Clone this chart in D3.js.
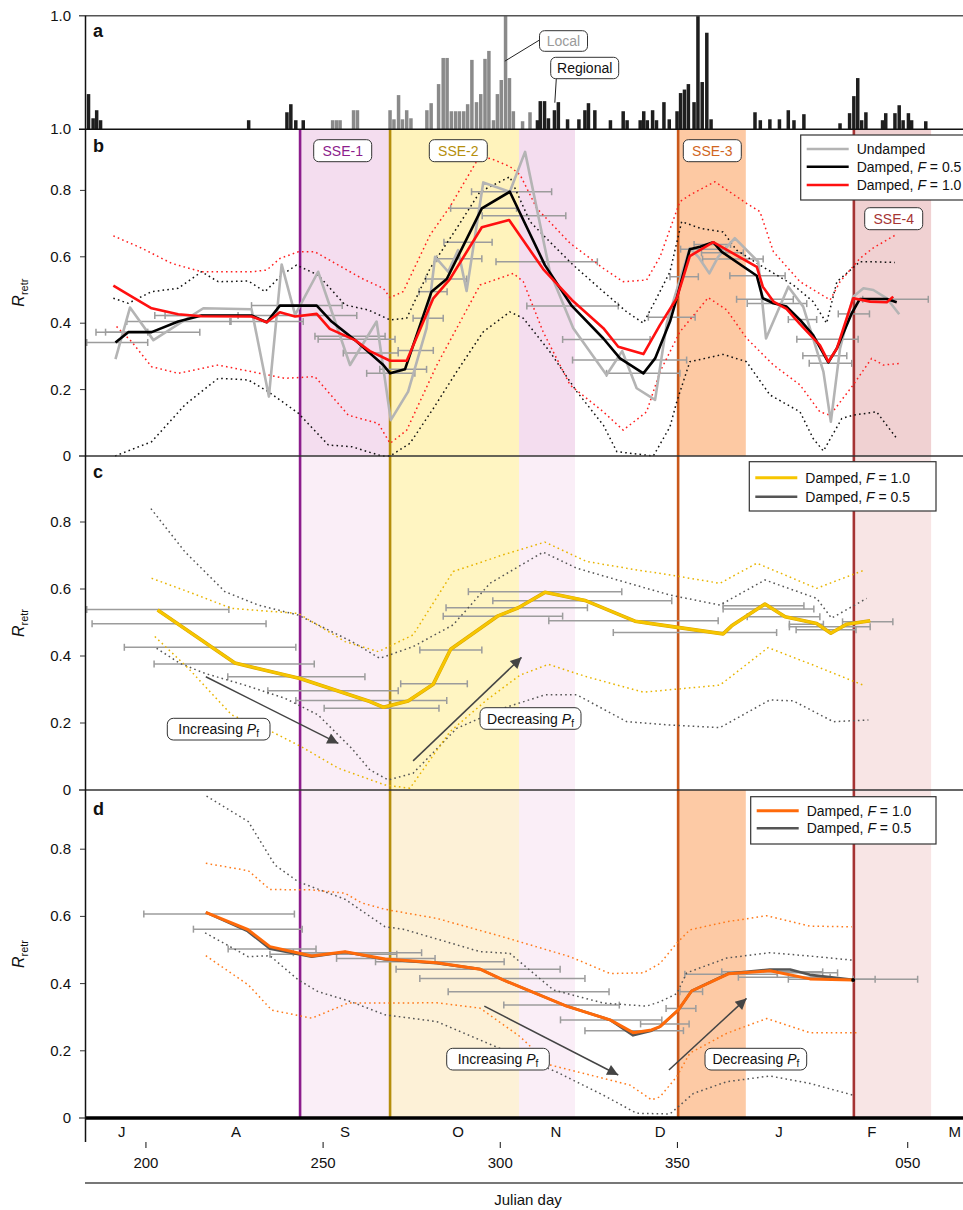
<!DOCTYPE html>
<html>
<head>
<meta charset="utf-8">
<script src="https://cdn.jsdelivr.net/npm/d3@7"></script>
<style>
  body { margin: 0; background: #fff; }
  svg { display: block; font-family: "Liberation Sans", Arial, sans-serif; }
</style>
</head>
<body>
<svg id="chart" width="963" height="1210"></svg>
<script>
// ---------- Panel a: daily tremor activity (fraction of max) ----------
const regionalBars = [[183.3,0.31],[184.6,0.097],[185.6,0.168],[186.7,0.08],[228.5,0.08],[239.3,0.15],[240.4,0.221],[241.8,0.08],[243.9,0.08],
  [310.0,0.08],[310.8,0.248],[312.0,0.248],[313.1,0.097],[314.8,0.168],[315.9,0.239],[318.5,0.088],[321.7,0.088],[323.4,0.168],[324.4,0.23],[326.2,0.168],
  [330.6,0.08],[334.2,0.159],[335.3,0.08],[339.0,0.08],[340.0,0.159],[341.0,0.08],[342.5,0.168],[343.6,0.08],[345.7,0.239],[347.2,0.088],[349.4,0.159],
  [350.4,0.319],[351.5,0.35],[352.6,0.398],[354.2,0.239],[355.3,1.0],[356.5,0.416],[357.8,0.85],[359.0,0.088],[371.4,0.15],[372.9,0.08],[375.6,0.088],
  [378.3,0.088],[380.8,0.168],[382.4,0.08],[385.2,0.133],[395.4,0.053],[398.1,0.142],[399.3,0.292],[400.4,0.451],[401.5,0.08],[402.7,0.15],[407.4,0.08],
  [408.3,0.142],[410.9,0.142],[412.1,0.212],[413.2,0.08],[414.7,0.142],[415.6,0.08],[419.6,0.071]];
const localBars = [[252.2,0.08],[253.3,0.08],[254.3,0.08],[258.1,0.168],[259.2,0.168],[268.4,0.168],[269.5,0.088],[270.8,0.301],[271.9,0.088],[273.1,0.168],
  [274.3,0.097],[278.8,0.168],[280.0,0.23],[282.1,0.398],[283.4,0.628],[284.5,0.628],[285.7,0.159],[286.9,0.159],[288.0,0.159],[289.2,0.159],[290.3,0.221],
  [291.5,0.611],[292.8,0.239],[294.0,0.31],[295.2,0.62],[296.3,0.69],[297.6,0.08],[298.7,0.31],[299.8,0.434],[301.0,1.0],[302.1,0.451],[303.2,0.159],
  [305.8,0.071],[307.9,0.15]];

// ---------- Panel b: R_retr estimates ----------
const bUndamped = [[191.4,0.292],[195.5,0.447],[202.1,0.349],[216.2,0.445],[229.8,0.442],[234.7,0.179],[238.3,0.577],[242.1,0.425],[248.6,0.555],[257.6,0.274],
  [265.1,0.405],[269.1,0.108],[274.0,0.194],[279.2,0.385],[281.6,0.6],[285.3,0.555],[288.1,0.62],[290.5,0.497],[295.2,0.824],[302.7,0.796],[307.0,0.916],
  [314.0,0.555],[320.6,0.385],[330.0,0.244],[334.4,0.316],[338.5,0.204],[343.7,0.169],[347.0,0.40],[349.8,0.5],[353.5,0.626],[355.9,0.6],[359.0,0.55],
  [361.5,0.6],[366.2,0.656],[372.8,0.585],[375.0,0.354],[381.3,0.51],[385.5,0.45],[391.2,0.254],[393.3,0.103],[395.9,0.324],[399.6,0.48],[402.5,0.505],
  [405.3,0.5],[409.1,0.475],[412.6,0.427]];
const bDampedF05 = [[191.4,0.342],[195.0,0.373],[201.6,0.373],[209.1,0.405],[215.7,0.423],[229.8,0.423],[234.1,0.403],[237.8,0.453],[248.2,0.453],[252.4,0.405],
  [259.0,0.349],[267.0,0.274],[268.9,0.249],[273.1,0.261],[280.6,0.495],[284.9,0.533],[294.8,0.746],[302.7,0.796],[312.6,0.575],[320.2,0.452],[329.1,0.354],
  [333.8,0.294],[340.4,0.249],[343.7,0.294],[347.9,0.405],[349.8,0.475],[353.5,0.623],[356.4,0.63],[360.1,0.644],[362.5,0.615],[372.4,0.543],[374.1,0.475],
  [377.1,0.46],[380.8,0.45],[384.6,0.41],[388.3,0.364],[392.6,0.282],[395.0,0.324],[399.2,0.43],[401.5,0.473],[409.1,0.473],[411.9,0.463]];
const bDampedF10 = [[190.8,0.513],[196.0,0.48],[201.6,0.445],[209.1,0.427],[215.7,0.421],[229.8,0.42],[234.1,0.403],[237.8,0.433],[242.1,0.42],[248.2,0.428],
  [251.9,0.383],[259.0,0.349],[263.2,0.316],[268.9,0.287],[273.6,0.287],[281.1,0.475],[285.8,0.533],[294.8,0.689],[302.5,0.711],[312.1,0.563],[320.2,0.47],
  [329.1,0.385],[333.3,0.329],[340.4,0.307],[345.1,0.395],[349.8,0.475],[353.5,0.602],[360.1,0.644],[372.4,0.57],[374.1,0.51],[377.1,0.465],[380.8,0.443],
  [384.6,0.397],[390.2,0.334],[392.6,0.284],[395.0,0.324],[399.6,0.475],[404.4,0.465],[409.1,0.463],[410.9,0.48]];
const bF05Upper = [[190.8,0.475],[195.0,0.46],[201.6,0.495],[209.1,0.505],[215.7,0.555],[220.4,0.525],[228.9,0.527],[233.6,0.495],[238.3,0.545],[242.5,0.575],
  [248.6,0.545],[256.2,0.455],[262.7,0.44],[268.9,0.41],[273.6,0.415],[280.2,0.565],[287.7,0.686],[294.3,0.796],[302.7,0.841],[308.4,0.706],[314.0,0.645],
  [320.6,0.575],[329.1,0.495],[335.7,0.434],[340.4,0.4],[344.1,0.475],[347.9,0.555],[351.2,0.706],[356.4,0.686],[362.9,0.675],[366.7,0.62],[373.3,0.575],
  [382.7,0.515],[388.3,0.465],[392.1,0.4],[395.0,0.525],[401.5,0.585],[405.3,0.585],[411.4,0.583]];
const bF05Lower = [[191.3,0.0],[201.6,0.043],[211.0,0.154],[220.4,0.234],[228.9,0.229],[234.5,0.194],[243.0,0.129],[251.5,0.033],[258.1,0.028],[266.5,0.0],
  [268.9,0.0],[274.5,0.038],[281.1,0.143],[287.7,0.254],[295.2,0.374],[302.7,0.434],[306.5,0.415],[314.0,0.314],[321.6,0.194],[329.1,0.093],[332.9,0.013],
  [343.2,0.0],[347.9,0.088],[349.8,0.163],[353.5,0.284],[362.9,0.306],[369.5,0.284],[376.1,0.184],[384.6,0.133],[388.3,0.053],[391.2,0.015],[396.4,0.113],
  [399.6,0.123],[406.2,0.133],[411.9,0.053]];
const bF10Upper = [[190.8,0.663],[198.8,0.626],[207.3,0.58],[215.7,0.555],[229.8,0.555],[234.1,0.56],[237.8,0.595],[243.0,0.615],[247.7,0.615],[254.3,0.575],
  [260.9,0.535],[267.0,0.505],[268.9,0.477],[272.6,0.495],[280.2,0.666],[285.8,0.751],[293.3,0.887],[297.1,0.897],[302.7,0.872],[305.6,0.847],[310.3,0.746],
  [319.7,0.641],[329.1,0.565],[334.7,0.525],[341.3,0.53],[345.1,0.6],[350.7,0.766],[353.5,0.786],[360.6,0.826],[369.5,0.761],[373.3,0.736],[377.1,0.615],
  [384.6,0.525],[393.1,0.47],[395.9,0.525],[401.5,0.595],[405.3,0.627],[411.9,0.668]];
const bF10Lower = [[191.7,0.39],[196.0,0.344],[201.6,0.269],[209.1,0.249],[220.4,0.274],[229.8,0.254],[239.2,0.234],[247.7,0.239],[257.1,0.123],[265.6,0.098],
  [268.9,0.038],[273.6,0.078],[282.1,0.274],[294.3,0.515],[303.7,0.55],[306.5,0.525],[312.1,0.374],[319.7,0.214],[329.1,0.133],[334.7,0.078],[341.3,0.133],
  [345.1,0.254],[350.7,0.374],[358.7,0.477],[363.9,0.44],[369.5,0.355],[377.1,0.274],[384.6,0.214],[390.2,0.133],[393.1,0.123],[399.6,0.214],[404.8,0.294],
  [408.1,0.274],[412.8,0.279]];
// estimation windows: [start day, end day, R_retr]
const bWindows = [[183.3,200.5,0.342],[185.9,200.5,0.373],[188.6,215.2,0.373],[194.6,224.0,0.405],[223.7,244.4,0.405],[202.5,259.5,0.423],[205.4,226.0,0.423],
  [229.8,255.4,0.453],[247.7,267.5,0.361],[248.6,270.3,0.352],[255.7,271.2,0.31],[271.2,281.1,0.318],[262.3,275.9,0.249],[266.0,279.2,0.261],[275.4,283.9,0.415],
  [277.1,285.0,0.495],[279.0,290.5,0.533],[282.1,294.8,0.594],[284.1,297.7,0.644],[286.0,304.6,0.746],[294.9,318.5,0.724],[291.9,314.5,0.796],[298.8,327.4,0.585],
  [307.5,333.3,0.452],[317.6,342.3,0.351],[320.4,352.6,0.289],[330.0,350.7,0.249],[341.8,355.0,0.418],[347.9,355.9,0.54],[350.9,363.7,0.623],[354.7,365.0,0.637],
  [356.8,368.6,0.612],[357.1,374.2,0.593],[364.8,380.4,0.543],[366.7,382.7,0.472],[369.7,386.5,0.459],[381.3,389.3,0.411],[383.7,401.0,0.352],[385.4,397.8,0.302],
  [387.2,399.2,0.279],[395.4,404.2,0.428],[402.3,420.8,0.472]];

// ---------- Panel c ----------
const cDampedF10 = [[203.3,0.537],[225.1,0.379],[243.5,0.333],[263.2,0.264],[267.0,0.247],[274.0,0.266],[281.1,0.316],[286.0,0.42],[299.4,0.52],[305.1,0.544],
  [312.6,0.59],[323.9,0.566],[338.0,0.504],[345.1,0.493],[362.9,0.466],[365.3,0.49],[374.7,0.555],[380.4,0.517],[389.3,0.497],[393.3,0.468],[397.8,0.495],[404.4,0.505]];
const cDampedF05 = [[203.3,0.537],[225.1,0.379],[243.5,0.333],[263.2,0.264],[267.0,0.247],[274.0,0.266],[281.1,0.316],[286.0,0.42],[299.4,0.52],[305.1,0.544],
  [312.6,0.59],[323.9,0.566],[338.0,0.504],[345.1,0.493],[362.9,0.466],[365.3,0.49],[374.7,0.555],[380.4,0.517],[389.3,0.497],[393.3,0.468],[397.8,0.495],[404.4,0.505]];
const cF10Upper = [[201.6,0.632],[211.9,0.592],[224.2,0.542],[243.0,0.527],[256.2,0.443],[265.6,0.413],[275.4,0.463],[286.7,0.652],[300.8,0.702],[312.6,0.74],
  [324.4,0.682],[338.5,0.657],[347.9,0.642],[362.0,0.617],[372.4,0.677],[389.3,0.602],[402.9,0.657]];
const cF10Lower = [[202.5,0.458],[211.9,0.364],[224.2,0.224],[235.5,0.174],[243.9,0.129],[254.3,0.065],[267.5,0.015],[274.5,0.005],[285.8,0.174],[296.2,0.269],
  [305.6,0.343],[313.6,0.375],[324.4,0.338],[340.4,0.292],[362.0,0.313],[375.6,0.425],[388.3,0.373],[402.9,0.311]];
const cF05Upper = [[201.4,0.84],[211.0,0.711],[222.3,0.592],[231.7,0.552],[243.0,0.522],[258.1,0.443],[266.0,0.393],[275.4,0.428],[286.7,0.493],[297.1,0.617],
  [312.1,0.71],[321.6,0.662],[334.7,0.622],[347.9,0.582],[362.0,0.552],[374.7,0.627],[389.3,0.572],[393.5,0.513],[403.4,0.572]];
const cF05Lower = [[203.0,0.423],[209.6,0.378],[216.7,0.348],[227.9,0.313],[239.2,0.274],[248.6,0.224],[258.1,0.124],[263.2,0.06],[268.4,0.03],[275.4,0.05],
  [287.7,0.184],[300.8,0.244],[312.6,0.284],[321.6,0.284],[335.7,0.204],[347.9,0.194],[362.0,0.186],[376.1,0.269],[382.7,0.266],[394.0,0.204],[403.9,0.209]];
const cWindows = [[183.3,223.4,0.539],[184.8,233.9,0.496],[193.9,242.3,0.426],[202.3,247.5,0.376],[223.1,261.8,0.338],[234.4,271.2,0.296],[242.3,284.9,0.267],
  [250.3,282.7,0.244],[271.9,290.7,0.317],[277.3,294.8,0.418],[283.9,317.6,0.519],[284.7,324.6,0.544],[291.0,334.3,0.592],[297.9,348.4,0.565],[313.7,361.5,0.505],
  [331.9,378.0,0.47],[362.9,385.7,0.55],[362.9,388.5,0.54],[369.7,390.2,0.517],[381.6,391.2,0.495],[381.6,404.4,0.487],[383.5,400.4,0.478],[396.6,410.8,0.502]];

// ---------- Panel d ----------
const dDampedF10 = [[216.9,0.612],[228.7,0.561],[235.0,0.51],[246.8,0.482],[256.2,0.495],[267.5,0.473],[282.1,0.462],[294.3,0.443],[300.8,0.411],[318.7,0.333],
  [331.0,0.292],[337.5,0.254],[342.7,0.262],[345.1,0.272],[350.2,0.321],[354.0,0.378],[364.4,0.429],[376.1,0.438],[387.4,0.414],[399.6,0.411]];
const dDampedF05 = [[216.9,0.612],[228.7,0.556],[235.0,0.504],[246.8,0.48],[256.2,0.494],[267.5,0.472],[282.1,0.461],[294.3,0.443],[300.8,0.411],[318.7,0.333],
  [331.0,0.292],[337.5,0.246],[342.7,0.26],[345.1,0.272],[350.2,0.321],[354.0,0.378],[364.4,0.43],[376.1,0.442],[381.8,0.442],[387.4,0.426],[399.6,0.411]];
const dF10Upper = [[216.9,0.758],[228.9,0.736],[235.0,0.68],[246.8,0.679],[256.2,0.669],[260.9,0.64],[267.5,0.621],[282.1,0.594],[300.8,0.539],[319.7,0.48],
  [331.0,0.43],[340.4,0.432],[345.1,0.46],[349.8,0.52],[353.5,0.56],[363.9,0.584],[375.2,0.602],[387.4,0.571],[399.2,0.569]];
const dF10Lower = [[216.9,0.483],[228.9,0.396],[235.5,0.321],[246.8,0.297],[257.1,0.342],[267.5,0.342],[282.1,0.343],[294.3,0.327],[305.6,0.242],[314.0,0.158],
  [329.1,0.118],[336.6,0.098],[342.7,0.054],[345.1,0.063],[349.8,0.123],[353.5,0.193],[363.9,0.252],[375.2,0.296],[387.4,0.254],[400.6,0.254]];
const dF05Upper = [[217.1,0.958],[228.9,0.882],[236.4,0.753],[243.0,0.703],[256.2,0.651],[267.5,0.569],[272.6,0.562],[294.3,0.495],[302.7,0.49],[315.0,0.381],
  [329.1,0.342],[341.3,0.333],[345.1,0.346],[349.8,0.37],[352.6,0.432],[363.9,0.476],[376.1,0.492],[387.4,0.482],[399.2,0.47]];
const dF05Lower = [[216.7,0.551],[228.9,0.48],[235.0,0.483],[243.0,0.411],[248.6,0.376],[257.1,0.349],[267.5,0.307],[282.1,0.287],[294.3,0.232],[305.6,0.182],
  [315.9,0.137],[329.1,0.068],[338.5,0.014],[347.9,0.012],[354.5,0.073],[363.9,0.108],[376.1,0.125],[387.4,0.103],[399.6,0.068]];
const dWindows = [[199.4,241.9,0.607],[213.4,244.1,0.562],[223.2,248.0,0.503],[235.0,270.8,0.487],[241.6,277.8,0.492],[253.8,281.6,0.475],[264.8,301.1,0.465],
  [270.6,316.9,0.443],[277.3,323.9,0.415],[285.3,330.7,0.376],[301.0,333.6,0.336],[317.0,345.6,0.292],[323.9,351.7,0.26],[339.6,353.3,0.28],[346.8,355.2,0.326],
  [350.7,357.1,0.376],[352.1,378.2,0.428],[362.5,391.0,0.435],[378.2,395.2,0.432],[367.2,393.1,0.419],[381.3,405.8,0.413],[399.6,417.8,0.413]];

// ---------- Slow slip events: onset line and shaded span (Julian day) ----------
const sseNames = ["SSE-1", "SSE-2", "SSE-3", "SSE-4"];
const sseOnset = [243.5, 268.9, 350.2, 399.8];
const sseEnd = [321.1, 305.3, 369.3, 421.6];

// ---------- Axis labels ----------
const monthLabels = ["J", "A", "S", "O", "N", "D", "J", "F", "M"];
const monthDays = [193.2, 225.4, 256.2, 288.1, 315.7, 345.1, 378.7, 404.9, 428.3];
const julianTicks = [200, 250, 300, 350, 415];
const julianLabels = ["200", "250", "300", "350", "050"];
const rTicks = [0, 0.2, 0.4, 0.6, 0.8];

// ================= drawing =================
const svg = d3.select("#chart");
const x = d3.scaleLinear().domain([182.8, 430.6]).range([85, 963]);
const yA = d3.scaleLinear().domain([0, 1]).range([129.3, 15.7]);
const yB = d3.scaleLinear().domain([0, 1]).range([456, 124]);
const yC = d3.scaleLinear().domain([0, 1]).range([790, 455]);
const yD = d3.scaleLinear().domain([0, 1]).range([1118, 782]);

const panels = {
  b: { y: yB, top: 129.3, bottom: 456 },
  c: { y: yC, top: 456, bottom: 790 },
  d: { y: yD, top: 790, bottom: 1118 }
};

const sseStyle = [
  { line: "#8c1d8c", text: "#8c1d8c" },
  { line: "#b58e0c", text: "#b58e0c" },
  { line: "#c9581a", text: "#d0661e" },
  { line: "#a53434", text: "#a53434" }
];
// band fill per panel (null = not shaded)
const bandFill = {
  b: ["#f4ddef", "#fff3bc", "#fdc9a3", "#f0d1d2"],
  c: ["#faeef7", "#fff5c2", null, "#f8e5e5"],
  d: ["#faeef7", "#fdf1d7", "#fdcaa5", "#f8e5e5"]
};

const defs = svg.append("defs");
defs.append("marker").attr("id", "arrowhead")
  .attr("viewBox", "0 0 10 10").attr("refX", 10).attr("refY", 5)
  .attr("markerWidth", 15).attr("markerHeight", 11)
  .attr("markerUnits", "userSpaceOnUse").attr("orient", "auto")
  .append("path").attr("d", "M0,0 L10,5 L0,10 z").attr("fill", "#444");

// shaded spans (SSE-1 band drawn first, SSE-2 over it)
Object.entries(panels).forEach(([key, p]) => {
  const g = svg.append("g");
  sseOnset.forEach((s, i) => {
    const f = bandFill[key][i];
    if (!f) return;
    g.append("rect").attr("x", x(s)).attr("y", p.top)
      .attr("width", x(sseEnd[i]) - x(s)).attr("height", p.bottom - p.top)
      .attr("fill", f);
  });
});

// SSE onset lines through panels b-d
sseOnset.forEach((s, i) => {
  svg.append("line").attr("x1", x(s)).attr("x2", x(s)).attr("y1", 129.3).attr("y2", 1118)
    .attr("stroke", sseStyle[i].line).attr("stroke-width", 2.6);
});

// ---------- panel a bars ----------
const barW = x(184.13) - x(183) - 0.5;
const gA = svg.append("g");
gA.selectAll("rect.reg").data(regionalBars).join("rect")
  .attr("x", d => x(d[0])).attr("width", barW)
  .attr("y", d => yA(d[1])).attr("height", d => yA(0) - yA(d[1]))
  .attr("fill", "#1e1e1e");
gA.selectAll("rect.loc").data(localBars).join("rect")
  .attr("x", d => x(d[0])).attr("width", barW)
  .attr("y", d => yA(d[1])).attr("height", d => yA(0) - yA(d[1]))
  .attr("fill", "#8a8a8a");

function callout(px, py, lx, ly, bx, by, bw, bh, label, color) {
  gA.append("line").attr("x1", px).attr("y1", py).attr("x2", lx).attr("y2", ly)
    .attr("stroke", "#222").attr("stroke-width", 1);
  gA.append("rect").attr("x", bx).attr("y", by).attr("width", bw).attr("height", bh)
    .attr("rx", 5).attr("fill", "#fff").attr("stroke", "#333").attr("stroke-width", 1);
  gA.append("text").attr("x", bx + bw / 2).attr("y", by + bh / 2 + 5)
    .attr("text-anchor", "middle").attr("font-size", 14).attr("fill", color).text(label);
}
callout(x(301.3), yA(0.6), 539.5, 40, 539.5, 30.7, 48, 20.6, "Local", "#9a9a9a");
callout(x(315.4), yA(0.234), 556.3, 78.7, 550.7, 57.3, 68, 21.4, "Regional", "#111");

// ---------- helpers ----------
function windows(p, data) {
  const g = svg.append("g").attr("stroke", "#9c9c9c").attr("stroke-width", 1.5);
  data.forEach(w => {
    const yy = p.y(w[2]);
    g.append("line").attr("x1", x(w[0])).attr("x2", x(w[1])).attr("y1", yy).attr("y2", yy);
    g.append("line").attr("x1", x(w[0])).attr("x2", x(w[0])).attr("y1", yy - 3.5).attr("y2", yy + 3.5);
    g.append("line").attr("x1", x(w[1])).attr("x2", x(w[1])).attr("y1", yy - 3.5).attr("y2", yy + 3.5);
  });
}
function series(p, data, color, width, dotted) {
  const line = d3.line().x(d => x(d[0])).y(d => p.y(d[1]));
  const path = svg.append("path").datum(data).attr("d", line)
    .attr("fill", "none").attr("stroke", color).attr("stroke-width", width)
    .attr("stroke-linejoin", "round");
  if (dotted) path.attr("stroke-dasharray", "1.6 3.2");
  return path;
}
function arrow(p, a, b) {
  svg.append("line").attr("x1", x(a[0])).attr("y1", p.y(a[1]))
    .attr("x2", x(b[0])).attr("y2", p.y(b[1]))
    .attr("stroke", "#444").attr("stroke-width", 1.5).attr("marker-end", "url(#arrowhead)");
}
function noteBox(bx, by, bw, bh, word) {
  svg.append("rect").attr("x", bx).attr("y", by).attr("width", bw).attr("height", bh)
    .attr("rx", 6).attr("fill", "#fff").attr("stroke", "#333").attr("stroke-width", 1);
  const t = svg.append("text").attr("x", bx + bw / 2).attr("y", by + bh / 2 + 5)
    .attr("text-anchor", "middle").attr("font-size", 14).attr("fill", "#111");
  t.append("tspan").text(word + " ");
  t.append("tspan").attr("font-style", "italic").text("P");
  t.append("tspan").attr("font-size", 10).attr("dy", 3).text("f");
}
function legend(lx, ly, lw, lh, items) {
  svg.append("rect").attr("x", lx).attr("y", ly).attr("width", lw).attr("height", lh)
    .attr("fill", "#fff").attr("stroke", "#333").attr("stroke-width", 1.2);
  items.forEach((it, i) => {
    const yy = ly + it.dy;
    svg.append("line").attr("x1", lx + 6).attr("x2", lx + 48).attr("y1", yy).attr("y2", yy)
      .attr("stroke", it.color).attr("stroke-width", it.w);
    const t = svg.append("text").attr("x", lx + 56).attr("y", yy + 5).attr("font-size", 14).attr("fill", "#111");
    if (it.F) {
      t.append("tspan").text("Damped, ");
      t.append("tspan").attr("font-style", "italic").text("F");
      t.append("tspan").text(" = " + it.F);
    } else t.text(it.label);
  });
}

// ---------- panel b ----------
windows(panels.b, bWindows);
series(panels.b, bF05Upper, "#111", 1.5, true);
series(panels.b, bF05Lower, "#111", 1.5, true);
series(panels.b, bF10Upper, "#ff1e1e", 1.5, true);
series(panels.b, bF10Lower, "#ff1e1e", 1.5, true);
series(panels.b, bUndamped, "#b4b4b4", 2.6, false);
series(panels.b, bDampedF05, "#000", 2.6, false);
series(panels.b, bDampedF10, "#ff1010", 2.6, false);

// SSE labels
const sseLabelPos = [[342.7, 150.7], [458.3, 150.7], [712.3, 150.7], [893.7, 218.7]];
sseNames.forEach((n, i) => {
  const [cx, cy] = sseLabelPos[i];
  svg.append("rect").attr("x", cx - 29).attr("y", cy - 11).attr("width", 58).attr("height", 22)
    .attr("rx", 5).attr("fill", "#fff").attr("stroke", "#333").attr("stroke-width", 1);
  svg.append("text").attr("x", cx).attr("y", cy + 5).attr("text-anchor", "middle")
    .attr("font-size", 14).attr("fill", sseStyle[i].text).text(n);
});

legend(800.7, 135, 180, 65, [
  { label: "Undamped", color: "#b4b4b4", w: 2.6, dy: 14 },
  { F: "0.5", color: "#000", w: 2.6, dy: 31.7 },
  { F: "1.0", color: "#ff1010", w: 2.6, dy: 50 }
]);

// ---------- panel c ----------
windows(panels.c, cWindows);
series(panels.c, cF05Upper, "#555", 1.5, true);
series(panels.c, cF05Lower, "#555", 1.5, true);
series(panels.c, cF10Upper, "#e8b400", 1.5, true);
series(panels.c, cF10Lower, "#e8b400", 1.5, true);
series(panels.c, cDampedF05, "#d9a600", 3.6, false);
series(panels.c, cDampedF10, "#f7c600", 2.6, false);
arrow(panels.c, [216.9, 0.338], [254.3, 0.139]);
arrow(panels.c, [275.4, 0.087], [306.0, 0.396]);
noteBox(167.3, 718.3, 102.7, 21.7, "Increasing");
noteBox(480, 707.7, 101, 21.6, "Decreasing");
legend(749.3, 461.7, 186.7, 49.3, [
  { F: "1.0", color: "#f7c600", w: 3, dy: 16 },
  { F: "0.5", color: "#555", w: 2.6, dy: 35 }
]);

// ---------- panel d ----------
windows(panels.d, dWindows);
series(panels.d, dF05Upper, "#555", 1.5, true);
series(panels.d, dF05Lower, "#555", 1.5, true);
series(panels.d, dF10Upper, "#ff7a1a", 1.5, true);
series(panels.d, dF10Lower, "#ff7a1a", 1.5, true);
series(panels.d, dDampedF05, "#555", 2.6, false);
series(panels.d, dDampedF10, "#ff6a0a", 3, false);
arrow(panels.d, [295.5, 0.333], [333.3, 0.128]);
arrow(panels.d, [347.6, 0.143], [369.5, 0.356]);
noteBox(446.7, 1048.3, 102.6, 21.7, "Increasing");
noteBox(705, 1048.3, 101.7, 21.7, "Decreasing");
legend(750.7, 796.7, 185.3, 47.3, [
  { F: "1.0", color: "#ff6a0a", w: 3, dy: 14 },
  { F: "0.5", color: "#555", w: 2.6, dy: 31.6 }
]);
// end point of the F = 1.0 curve at the SSE-4 onset
svg.append("circle").attr("cx", x(dDampedF10[dDampedF10.length - 1][0]))
  .attr("cy", yD(dDampedF10[dDampedF10.length - 1][1])).attr("r", 2).attr("fill", "#000");

// ---------- frames and axes ----------
const frame = svg.append("g");
frame.append("line").attr("x1", 79).attr("x2", 963).attr("y1", yA(1)).attr("y2", yA(1))
  .attr("stroke", "#555").attr("stroke-width", 1.5);
frame.append("line").attr("x1", 79).attr("x2", 963).attr("y1", 129.3).attr("y2", 129.3)
  .attr("stroke", "#111").attr("stroke-width", 1.5);
[456, 790].forEach(yy => frame.append("line").attr("x1", 79).attr("x2", 963)
  .attr("y1", yy).attr("y2", yy).attr("stroke", "#333").attr("stroke-width", 1.5));
frame.append("line").attr("x1", 85).attr("x2", 963).attr("y1", 1118).attr("y2", 1118)
  .attr("stroke", "#000").attr("stroke-width", 3.5);
frame.append("line").attr("x1", 79).attr("x2", 85).attr("y1", 1118).attr("y2", 1118)
  .attr("stroke", "#333").attr("stroke-width", 1.2);
frame.append("line").attr("x1", 85.5).attr("x2", 85.5).attr("y1", yA(1)).attr("y2", 1142)
  .attr("stroke", "#111").attr("stroke-width", 1.5);

// y tick labels
const tickG = svg.append("g").attr("font-size", 15).attr("fill", "#111").attr("text-anchor", "end");
tickG.append("text").attr("x", 71).attr("y", yA(1) + 5).text("1.0");
tickG.append("text").attr("x", 71).attr("y", 129.3 + 5).text("1.0");
[panels.b, panels.c, panels.d].forEach(p => {
  rTicks.forEach(v => {
    if (v > 0) svg.append("line").attr("x1", 80).attr("x2", 85).attr("y1", p.y(v)).attr("y2", p.y(v))
      .attr("stroke", "#333").attr("stroke-width", 1);
    tickG.append("text").attr("x", 71).attr("y", p.y(v) + 5).text(v === 0 ? "0" : d3.format(".1f")(v));
  });
  const t = svg.append("text").attr("transform", `translate(24,${(p.top + p.bottom) / 2}) rotate(-90)`)
    .attr("text-anchor", "middle").attr("font-size", 16).attr("fill", "#111");
  t.append("tspan").attr("font-style", "italic").text("R");
  t.append("tspan").attr("font-size", 11).attr("dy", 4).text("retr");
});

// panel letters
[["a", 36.7], ["b", 152], ["c", 477.7], ["d", 815]].forEach(([l, yy]) => {
  svg.append("text").attr("x", 93).attr("y", yy).attr("font-size", 18)
    .attr("font-weight", "bold").attr("fill", "#111").text(l);
});

// month letters
svg.append("g").attr("font-size", 15).attr("fill", "#111").attr("text-anchor", "middle")
  .selectAll("text").data(monthLabels).join("text")
  .attr("x", (d, i) => x(monthDays[i])).attr("y", 1137).text(d => d);

// Julian day axis
const jg = svg.append("g");
julianTicks.forEach((t, i) => {
  jg.append("line").attr("x1", x(t)).attr("x2", x(t)).attr("y1", 1142).attr("y2", 1148)
    .attr("stroke", "#111").attr("stroke-width", 1);
  jg.append("text").attr("x", x(t)).attr("y", 1168).attr("text-anchor", "middle")
    .attr("font-size", 15).attr("fill", "#111").text(julianLabels[i]);
});
svg.append("line").attr("x1", 85).attr("x2", 963).attr("y1", 1183).attr("y2", 1183)
  .attr("stroke", "#777").attr("stroke-width", 2);
svg.append("text").attr("x", 528).attr("y", 1205).attr("text-anchor", "middle")
  .attr("font-size", 15).attr("fill", "#111").text("Julian day");
</script>
</body>
</html>
